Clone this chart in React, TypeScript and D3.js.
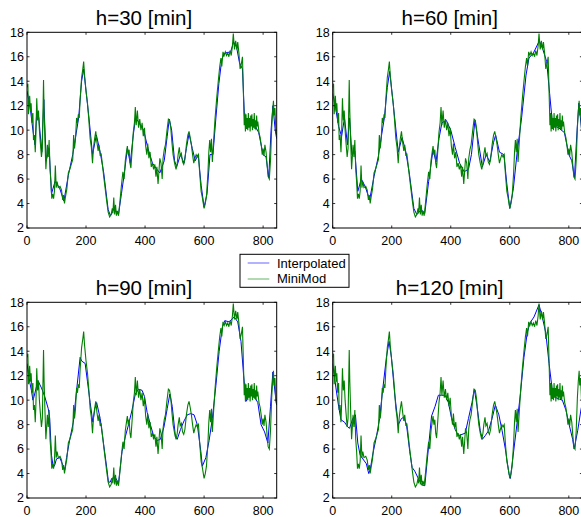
import React from "react";
import * as d3 from "d3";

// ---------- data ----------
const xTicks = [0, 200, 400, 600, 800];
const yTicks = [2, 4, 6, 8, 10, 12, 14, 16, 18];
const titles = ["h=30 [min]", "h=60 [min]", "h=90 [min]", "h=120 [min]"];
const legendLabels = ["Interpolated", "MiniMod"];

// MiniMod (green) – same in all panels
const miniModT = [0, 3, 5, 9, 12, 14, 17, 20, 22, 25, 28, 30, 33, 36, 39, 42, 45, 49, 52, 56, 58, 61, 64, 67, 69, 72, 75, 78, 81, 84, 87, 90, 93, 96, 99, 102, 106, 112, 117, 121, 124, 127, 130, 135, 140, 145, 150, 155, 158, 161, 164, 168, 171, 174, 177, 180, 185, 189, 192, 195, 200, 205, 209, 214, 218, 222, 225, 229, 233, 237, 241, 244, 248, 251, 255, 260, 265, 270, 275, 280, 285, 289, 291, 294, 297, 300, 303, 306, 310, 315, 320, 325, 329, 333, 337, 340, 343, 346, 349, 352, 356, 360, 364, 367, 370, 374, 378, 382, 386, 390, 394, 398, 402, 406, 409, 413, 417, 421, 425, 429, 433, 437, 440, 444, 447, 450, 454, 458, 461, 465, 469, 474, 479, 483, 487, 491, 495, 500, 505, 509, 512, 516, 519, 523, 527, 531, 535, 540, 545, 549, 553, 557, 561, 565, 569, 573, 577, 581, 585, 590, 594, 600, 604, 608, 613, 616, 619, 622, 625, 628, 632, 637, 643, 648, 653, 657, 660, 664, 668, 672, 676, 680, 684, 688, 692, 696, 699, 703, 707, 711, 714, 718, 722, 726, 730, 734, 736, 738, 740, 742, 744, 746, 748, 750, 752, 754, 756, 758, 760, 762, 764, 766, 768, 770, 772, 774, 776, 778, 780, 782, 786, 790, 794, 797, 800, 803, 806, 810, 814, 817, 821, 825, 829, 832, 835, 837, 840, 843, 846];
const miniModV = [13.5, 13.8, 11.3, 12.8, 11.5, 12.2, 10.6, 11.4, 9.2, 9.6, 8.2, 9.5, 12.6, 10.8, 11.6, 10.0, 9.0, 7.8, 8.5, 14.1, 11.5, 9.0, 6.8, 8.0, 8.8, 7.8, 9.2, 6.8, 5.8, 4.4, 4.8, 4.4, 5.0, 7.1, 5.3, 5.8, 5.3, 5.4, 5.1, 4.3, 4.7, 4.0, 4.5, 5.2, 6.5, 6.8, 7.2, 7.6, 9.6, 8.5, 9.2, 11.0, 10.6, 11.3, 11.0, 12.5, 14.3, 15.0, 15.6, 14.5, 13.2, 12.2, 11.0, 9.3, 8.6, 7.3, 8.5, 9.3, 9.9, 9.0, 8.3, 8.8, 7.9, 8.1, 7.3, 6.2, 5.2, 4.2, 3.3, 2.9, 3.1, 3.6, 3.2, 4.5, 3.1, 3.9, 3.0, 3.4, 3.0, 4.2, 5.5, 6.6, 6.0, 7.5, 8.2, 8.7, 8.0, 8.4, 7.3, 6.9, 8.3, 9.8, 10.6, 11.9, 10.4, 11.6, 10.2, 10.9, 10.0, 10.6, 9.5, 10.2, 8.7, 8.0, 8.9, 7.7, 8.2, 7.0, 7.3, 6.8, 7.2, 6.2, 7.0, 5.6, 6.6, 7.7, 7.3, 6.0, 7.7, 8.4, 8.8, 9.9, 10.9, 10.8, 10.2, 9.0, 8.0, 7.3, 6.8, 7.3, 8.0, 8.6, 7.9, 8.1, 7.4, 7.2, 7.6, 8.8, 9.6, 9.9, 9.4, 8.8, 8.0, 7.3, 7.7, 8.0, 7.8, 8.0, 6.5, 5.0, 4.5, 3.6, 4.0, 4.6, 6.5, 8.2, 9.2, 8.2, 9.3, 7.4, 9.0, 10.9, 12.7, 14.0, 15.2, 15.9, 15.2, 16.4, 16.1, 16.4, 16.1, 16.3, 16.0, 16.5, 16.1, 16.9, 17.9, 16.6, 17.3, 16.6, 17.2, 16.3, 15.0, 15.4, 16.0, 12.3, 10.4, 11.4, 9.9, 11.3, 10.1, 11.0, 10.0, 11.4, 10.2, 11.0, 9.9, 11.2, 10.3, 11.3, 10.0, 10.9, 10.2, 11.4, 10.1, 10.8, 10.0, 11.2, 10.3, 10.7, 9.8, 9.4, 8.7, 8.0, 8.5, 7.9, 8.8, 8.2, 7.0, 6.2, 6.0, 7.5, 10.2, 11.5, 12.4, 11.2, 11.8, 10.0, 9.6, 9.2];

// Interpolated (blue) – one per horizon
const interp30T = [0, 10, 20, 27, 33, 40, 50, 57, 65, 75, 83, 95, 110, 125, 140, 155, 165, 175, 185, 192, 200, 210, 222, 235, 248, 260, 275, 283, 295, 310, 320, 330, 340, 350, 360, 368, 380, 395, 410, 425, 440, 450, 465, 475, 482, 490, 500, 507, 520, 532, 540, 549, 560, 570, 580, 590, 600, 610, 620, 630, 640, 650, 660, 670, 690, 700, 710, 720, 730, 737, 750, 770, 785, 800, 810, 819, 827, 833, 841, 846];
const interp30V = [13.2, 12.0, 10.0, 8.8, 11.5, 11.0, 8.2, 12.5, 7.5, 8.5, 4.8, 5.8, 5.3, 4.2, 6.3, 8.0, 9.5, 11.0, 14.0, 15.0, 13.2, 11.0, 8.0, 9.6, 8.2, 6.5, 3.5, 3.0, 3.6, 3.1, 4.8, 6.5, 8.5, 7.3, 9.6, 11.0, 10.6, 10.0, 8.5, 7.3, 6.8, 6.5, 7.5, 9.5, 10.9, 10.0, 7.5, 7.0, 8.0, 7.3, 8.5, 9.7, 8.5, 7.5, 8.0, 5.5, 3.7, 4.8, 8.0, 8.0, 11.0, 13.8, 15.8, 16.3, 16.4, 17.2, 16.8, 15.5, 15.0, 11.0, 10.5, 10.5, 9.8, 8.0, 7.8, 6.1, 10.0, 12.0, 10.0, 9.3];
const interp60T = [0, 10, 20, 30, 40, 50, 57, 65, 75, 85, 97, 110, 125, 140, 155, 165, 175, 185, 193, 200, 210, 222, 235, 248, 260, 275, 285, 300, 312, 325, 340, 350, 360, 370, 385, 400, 415, 430, 445, 460, 470, 482, 495, 507, 520, 532, 545, 552, 565, 580, 590, 600, 612, 625, 640, 655, 665, 680, 700, 712, 725, 735, 745, 765, 785, 800, 810, 819, 828, 834, 846];
const interp60V = [13.0, 11.8, 10.3, 9.5, 11.0, 8.8, 11.0, 8.0, 8.3, 5.0, 6.0, 5.4, 4.3, 6.2, 7.9, 9.5, 11.0, 13.5, 14.8, 13.3, 11.0, 8.2, 9.4, 8.2, 6.4, 3.6, 3.1, 3.5, 3.2, 5.8, 8.4, 7.4, 9.3, 10.6, 10.8, 10.0, 8.6, 7.3, 6.6, 6.8, 8.0, 10.8, 8.8, 7.0, 8.0, 7.4, 9.0, 9.6, 8.2, 8.0, 5.6, 3.6, 5.2, 8.2, 11.0, 14.5, 15.9, 16.3, 17.3, 16.6, 15.6, 13.0, 10.4, 10.2, 9.8, 8.0, 7.5, 6.1, 10.0, 12.2, 9.4];
const interp90T = [0, 9, 15, 20, 24, 37, 49, 60, 72, 77, 83, 89, 94, 100, 111, 123, 128, 134, 145, 157, 168, 180, 185, 197, 205, 214, 223, 230, 236, 248, 259, 270, 276, 282, 287, 299, 310, 322, 333, 344, 356, 367, 378, 390, 398, 407, 418, 430, 441, 452, 464, 475, 484, 492, 503, 509, 520, 532, 543, 555, 566, 577, 589, 594, 606, 617, 628, 640, 651, 662, 670, 685, 702, 714, 725, 734, 742, 753, 770, 782, 793, 805, 816, 825, 833, 841, 846];
const interp90V = [13.0, 11.5, 10.8, 10.0, 10.3, 11.6, 11.0, 10.3, 9.3, 8.5, 5.5, 4.5, 4.7, 5.2, 5.3, 4.6, 4.3, 5.3, 6.8, 8.2, 10.8, 13.5, 13.2, 13.0, 11.5, 9.8, 8.2, 9.3, 9.8, 8.5, 6.5, 4.5, 3.3, 3.3, 3.6, 3.7, 3.2, 5.8, 7.0, 8.0, 9.2, 10.5, 10.9, 10.8, 10.3, 9.0, 8.0, 7.0, 6.7, 6.8, 7.8, 9.3, 10.5, 9.5, 7.0, 6.8, 7.6, 8.3, 8.8, 8.9, 8.8, 8.0, 5.8, 4.6, 5.3, 6.7, 8.5, 11.2, 14.0, 16.0, 16.5, 16.4, 16.8, 16.4, 14.8, 12.0, 9.9, 10.5, 10.3, 9.8, 8.0, 7.4, 6.5, 9.5, 12.3, 10.5, 9.6];
const interp120T = [0, 11, 20, 28, 40, 51, 57, 68, 77, 85, 93, 102, 114, 122, 127, 136, 148, 159, 170, 182, 191, 199, 210, 222, 233, 241, 250, 261, 269, 278, 290, 301, 312, 324, 335, 347, 358, 369, 381, 392, 403, 415, 426, 438, 449, 460, 472, 480, 489, 500, 507, 517, 528, 540, 551, 563, 574, 585, 597, 602, 614, 625, 636, 648, 659, 668, 682, 699, 710, 722, 733, 744, 756, 767, 778, 790, 801, 813, 818, 830, 841, 846];
const interp120V = [13.0, 11.0, 9.5, 8.4, 8.2, 7.8, 7.7, 8.5, 8.8, 6.5, 5.5, 5.2, 4.8, 4.0, 4.3, 5.6, 7.0, 8.5, 11.0, 13.5, 14.8, 13.5, 10.5, 8.0, 8.5, 8.6, 8.0, 5.8, 4.5, 4.2, 3.6, 3.1, 3.0, 6.0, 8.7, 9.5, 10.4, 10.4, 10.4, 9.8, 8.5, 7.6, 7.1, 7.2, 7.3, 8.5, 9.8, 10.9, 9.5, 7.5, 6.8, 7.1, 7.5, 8.5, 9.6, 8.8, 7.5, 6.0, 4.0, 3.6, 6.0, 8.2, 10.5, 13.5, 15.5, 16.3, 16.8, 17.8, 16.8, 15.5, 13.0, 10.8, 10.2, 10.1, 10.0, 9.2, 8.0, 6.8, 6.0, 7.5, 9.2, 9.8];

const interpT = [interp30T, interp60T, interp90T, interp120T];
const interpV = [interp30V, interp60V, interp90V, interp120V];

// ---------- layout ----------
const W = 581;
const H = 517;
const PW = 249.7;
const PH = 195.7;
const lefts = [27, 332.7, 27, 332.7];
const tops = [32.3, 32.3, 302.3, 302.3];
const X_MAX = 846;
const BLUE = "#0000ff";
const GREEN = "#008000";
const FONT = "'Liberation Sans', Arial, Helvetica, sans-serif";

function Panel({ i }: { i: number }) {
  const left = lefts[i];
  const top = tops[i];
  const x = d3.scaleLinear().domain([0, X_MAX]).range([left, left + PW]);
  const y = d3.scaleLinear().domain([2, 18]).range([top + PH, top]);
  const line = d3
    .line<[number, number]>()
    .x((d) => x(d[0]))
    .y((d) => y(d[1]));
  const green = line(miniModT.map((t, k) => [t, miniModV[k]] as [number, number])) || "";
  const blue = line(interpT[i].map((t, k) => [t, interpV[i][k]] as [number, number])) || "";
  const clipId = `clip${i}`;
  const tl = 2.5;
  const bottom = top + PH;
  const right = left + PW;
  return (
    <g>
      <defs>
        <clipPath id={clipId}>
          <rect x={left} y={top} width={PW} height={PH} />
        </clipPath>
      </defs>
      <rect x={left} y={top} width={PW} height={PH} fill="#fff" />
      <g clipPath={`url(#${clipId})`}>
        <path d={blue} fill="none" stroke={BLUE} strokeWidth={1} />
        <path d={green} fill="none" stroke={GREEN} strokeWidth={1.1} />
      </g>
      {xTicks.map((t) => (
        <g key={"x" + t}>
          <line x1={x(t)} x2={x(t)} y1={bottom} y2={bottom - tl} stroke="#000" strokeWidth={0.8} />
          <line x1={x(t)} x2={x(t)} y1={top} y2={top + tl} stroke="#000" strokeWidth={0.8} />
          <text x={x(t)} y={bottom + 16.5} textAnchor="middle" fontSize={12.5} fontFamily={FONT} fill="#000">
            {t}
          </text>
        </g>
      ))}
      {yTicks.map((t) => (
        <g key={"y" + t}>
          <line x1={left} x2={left + tl} y1={y(t)} y2={y(t)} stroke="#000" strokeWidth={0.8} />
          <line x1={right} x2={right - tl} y1={y(t)} y2={y(t)} stroke="#000" strokeWidth={0.8} />
          <text x={left - 3} y={y(t) + 4.4} textAnchor="end" fontSize={12.5} fontFamily={FONT} fill="#000">
            {t}
          </text>
        </g>
      ))}
      <rect x={left} y={top} width={PW} height={PH} fill="none" stroke="#000" strokeWidth={1} />
      <text x={left + 117} y={top - 7.3} textAnchor="middle" fontSize={20.5} fontFamily={FONT} fill="#000">
        {titles[i]}
      </text>
    </g>
  );
}

export default function App() {
  return (
    <svg
      width={W}
      height={H}
      viewBox={`0 0 ${W} ${H}`}
      style={{ position: "absolute", left: 0, top: 0, background: "#fff" }}
    >
      <rect x={0} y={0} width={W} height={H} fill="#fff" />
      {[0, 1, 2, 3].map((i) => (
        <Panel key={i} i={i} />
      ))}
      <g>
        <rect x={240} y={254.3} width={109} height={33} fill="#fff" stroke="#000" strokeWidth={1} />
        <line x1={247.7} x2={269.3} y1={263} y2={263} stroke={BLUE} strokeWidth={1} opacity={0.6} />
        <line x1={247.7} x2={269.3} y1={279} y2={279} stroke={GREEN} strokeWidth={1} opacity={0.6} />
        <text x={277} y={267.7} fontSize={13} fontFamily={FONT} fill="#000">
          {legendLabels[0]}
        </text>
        <text x={277} y={283.3} fontSize={13} fontFamily={FONT} fill="#000">
          {legendLabels[1]}
        </text>
      </g>
    </svg>
  );
}
